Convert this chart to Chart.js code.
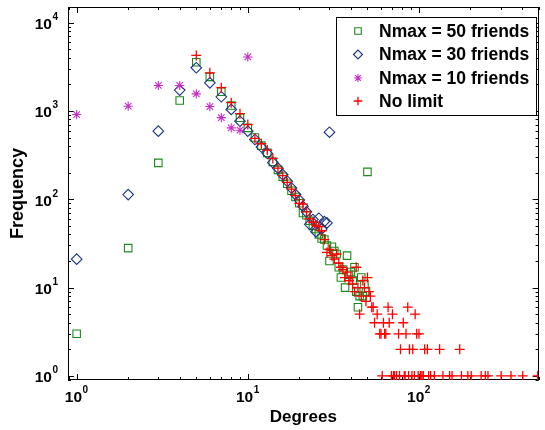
<!DOCTYPE html>
<html><head><meta charset="utf-8">
<script src="https://cdn.jsdelivr.net/npm/chart.js@4.4.0/dist/chart.umd.min.js"></script>
<style>html,body{margin:0;padding:0;background:#fff;}#wrap{width:545px;height:430px;position:relative;}</style>
</head><body><div id="wrap"><canvas id="c" width="545" height="430"></canvas></div>
<script>
// ---- data ----
const seriesNames = ['Nmax = 50 friends', 'Nmax = 30 friends', 'Nmax = 10 friends', 'No limit'];

const nmax50Deg = [1,2,3,4,5,6,7,8,9,10,11,12,13,14,15,16,17,18,19,20,21,22,23,24,25,26,27,28,29,30,31,32,33,34,35,36,37,38,39,40,41,42,43,44,45,46,47,48,49,50];
const nmax50Freq = [3,28,258,1310,3560,2430,1645,1150,835,643,500,405,335,265,215,180,150,125,106,90,70,66,57,50,46,40,36,35,30,20,29,26,24,17,13,16,10,23,14,15,12,17,9,6,8,13,8,11,9,204];

const nmax30Deg = [1,2,3,4,5,6,7,8,9,10,11,12,13,14,15,16,17,18,19,20,21,22,23,24,25,26,27,28,29,30];
const nmax30Freq = [21,113,590,1720,3080,2080,1445,1040,765,590,475,390,330,260,225,190,160,134,113,98,83,72,52,59,43,61,46,56,54,574];

const nmax10Deg = [1,2,3,4,5,6,7,8,9,10];
const nmax10Freq = [910,1130,1940,1940,1560,1120,840,643,605,4080];

const noLimitDeg = [5,6,7,8,9,10,11,12,13,14,15,16,17,18,19,20,21,22,23,24,25,26,27,28,29,30,31,32,33,34,35,36,37,38,39,40,41,42,43,44,45,46,47,48,49,50,51,52,53,54,55,
  57,59,60,61,62,63,64,66,67,69,70,71,72,74,76,77,78,81,82,83,84,86,87,88,91,92,94,95,97,99,100,102,104,106,108,112,114,117,123,132,138,151,156,173,177,193,202,231,244,253,302,345,404,494];
const noLimitFreq = [4250,2700,1830,1240,930,700,490,425,360,290,225,185,155,130,110,90,88,72,60,55,51,49,44,35,25,27,23,21,24,19,17,16,13,15,12,13,11,9,17,10,5,8,12,10,7,13,9,8,6,6,4,
  5,3,3,1,4,3,3,6,4,1,5,1,1,1,3,1,2,4,1,1,3,6,1,2,1,2,1,5,3,1,3,1,1,1,2,2,1,1,1,2,1,1,1,2,1,1,1,1,1,1,1,1,1,1];

const xTickExponents = [0,1,2];
const yTickExponents = [0,1,2,3,4];

// ---- helpers ----
function pts(xs, ys){ return xs.map((x,i)=>({x:x, y:ys[i]})); }

const GREEN = '#1a8a1a', NAVY = '#1a3585', MAGENTA = '#c62cc6', RED = '#ff0000';

const styles = [
  {pointStyle:'rect', radius:5.3, color:GREEN, width:1.1},
  {pointStyle:'rectRot', radius:5.3, color:NAVY, width:1.1},
  {pointStyle:'star', radius:4.6, color:MAGENTA, width:1.1},
  {pointStyle:'cross', radius:5, color:RED, width:1.3}
];
const dataSets = [pts(nmax50Deg,nmax50Freq), pts(nmax30Deg,nmax30Freq), pts(nmax10Deg,nmax10Freq), pts(noLimitDeg,noLimitFreq)];

const datasets = dataSets.map((d,i)=>({
  label: seriesNames[i],
  data: d,
  showLine:false,
  pointStyle: styles[i].pointStyle,
  pointRadius: styles[i].radius,
  pointHoverRadius: styles[i].radius,
  pointBorderColor: styles[i].color,
  borderColor: styles[i].color,
  pointBackgroundColor: 'rgba(0,0,0,0)',
  backgroundColor: 'rgba(0,0,0,0)',
  pointBorderWidth: styles[i].width,
  order: 3 - i
}));

const FONT = "'Liberation Sans', Arial, Helvetica, sans-serif";

const axisBox = {
  id:'axisBox',
  beforeDatasetsDraw(chart){
    const {ctx, chartArea:a, scales:{x,y}} = chart;
    ctx.save();
    ctx.strokeStyle = '#000'; ctx.lineWidth = 1;
    ctx.beginPath();
    for (let k = -1; k <= 3; k++){
      for (let m = 1; m <= 9; m++){
        const v = m*Math.pow(10,k);
        if (v < x.min || v > x.max) continue;
        const px = Math.round(x.getPixelForValue(v)) + 0.5;
        const len = (m===1) ? 6 : 3;
        ctx.moveTo(px, a.bottom); ctx.lineTo(px, a.bottom-len);
        ctx.moveTo(px, a.top); ctx.lineTo(px, a.top+len);
      }
    }
    for (let k = -1; k <= 5; k++){
      for (let m = 1; m <= 9; m++){
        const v = m*Math.pow(10,k);
        if (v < y.min || v > y.max) continue;
        const py = Math.round(y.getPixelForValue(v)) + 0.5;
        const len = (m===1) ? 6 : 3;
        ctx.moveTo(a.left, py); ctx.lineTo(a.left+len, py);
        ctx.moveTo(a.right, py); ctx.lineTo(a.right-len, py);
      }
    }
    ctx.stroke();
    ctx.strokeRect(Math.round(a.left)+0.5, Math.round(a.top)+0.5, Math.round(a.right-a.left)-1, Math.round(a.bottom-a.top)-1);

    // power-of-ten tick labels, positioned through the scales
    const big = "bold 15.5px " + FONT, small = "bold 10px " + FONT;
    ctx.fillStyle = '#000';
    ctx.textBaseline = 'alphabetic';
    ctx.textAlign = 'left';
    xTickExponents.forEach(e=>{
      const px = x.getPixelForValue(Math.pow(10,e));
      ctx.font = big; const w1 = ctx.measureText('10').width;
      ctx.font = small; const w2 = ctx.measureText(String(e)).width;
      const x0 = px - (w1 + w2)/2 - 0.5;
      ctx.font = big; ctx.fillText('10', x0, a.bottom + 22);
      ctx.font = small; ctx.fillText(String(e), x0 + w1 + 0.5, a.bottom + 13);
    });
    yTickExponents.forEach(e=>{
      const py = y.getPixelForValue(Math.pow(10,e));
      ctx.font = small; const w2 = ctx.measureText(String(e)).width;
      ctx.font = big; const w1 = ctx.measureText('10').width;
      const xr = a.left - 10;
      ctx.font = big; ctx.fillText('10', xr - w2 - w1 - 0.5, py + 6.5);
      ctx.font = small; ctx.fillText(String(e), xr - w2, py - 2.5);
    });
    ctx.restore();
  }
};

const boxLegend = {
  id:'boxLegend',
  afterDraw(chart){
    const ctx = chart.ctx;
    ctx.save();
    const L = 336, T = 17, R = 536, B = 115;
    ctx.fillStyle = '#fff';
    ctx.fillRect(L, T, R-L, B-T);
    ctx.strokeStyle = '#000'; ctx.lineWidth = 1;
    ctx.strokeRect(L+0.5, T+0.5, R-L, B-T);
    const rows = [31, 54.5, 78, 101];
    ctx.font = "bold 17.5px " + FONT;
    ctx.textBaseline = 'middle';
    ctx.textAlign = 'left';
    seriesNames.forEach((name,i)=>{
      const s = styles[i];
      ctx.save();
      ctx.strokeStyle = s.color; ctx.fillStyle = 'rgba(0,0,0,0)'; ctx.lineWidth = s.width;
      Chart.helpers.drawPoint(ctx, {pointStyle:s.pointStyle, radius: (i===0?4.6:s.radius*0.85), rotation:0, borderWidth:s.width}, 358, rows[i]);
      ctx.restore();
      ctx.fillStyle = '#000';
      ctx.fillText(name, 379, rows[i]+1);
    });
    ctx.restore();
  }
};

new Chart(document.getElementById('c'), {
  type:'scatter',
  data:{datasets},
  plugins:[axisBox, boxLegend],
  options:{
    responsive:false,
    devicePixelRatio:1,
    animation:false,
    layout:{padding:{left:0, top:7, right:5, bottom:0}},
    plugins:{legend:{display:false}, tooltip:{enabled:false}},
    scales:{
      x:{
        type:'logarithmic', position:'bottom', min:0.89, max:500,
        grid:{display:false, drawTicks:false},
        border:{display:false},
        ticks:{display:false},
        title:{display:true, text:'Degrees', color:'#000', font:{family:FONT, size:17, weight:'bold'}, padding:{top:0,bottom:2}},
        afterFit:(s)=>{ s.height = 50; }
      },
      y:{
        type:'logarithmic', position:'left', min:0.9, max:15000,
        grid:{display:false, drawTicks:false},
        border:{display:false},
        ticks:{display:false},
        title:{display:true, text:'Frequency', color:'#000', font:{family:FONT, size:18, weight:'bold'}, padding:{top:7,bottom:0}},
        afterFit:(s)=>{ s.width = 68; }
      }
    }
  }
});
</script>
</body></html>
